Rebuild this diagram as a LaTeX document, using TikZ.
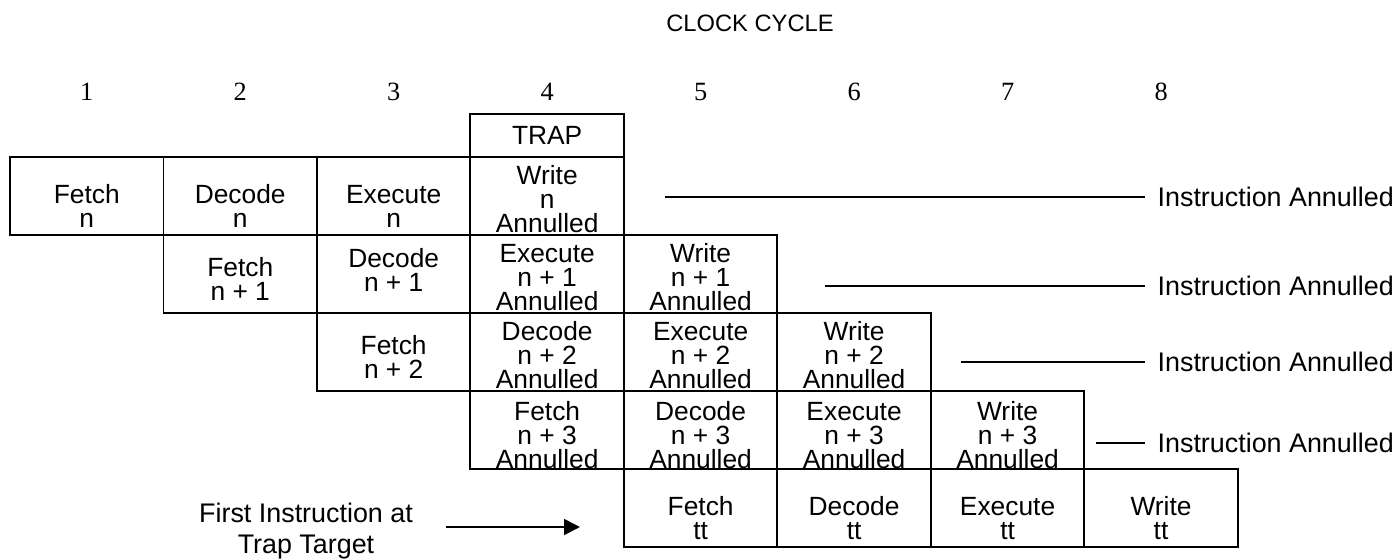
\documentclass[tikz,border=0pt]{standalone}
\usepackage{fontspec}
\setmainfont{Liberation Serif}
\setsansfont{Liberation Sans}
\usepackage{tikz}
\usetikzlibrary{arrows.meta,positioning}
\tikzset{
  cell/.style={draw,line width=1.1pt,minimum width=3.07cm,minimum height=1.56cm,
    inner sep=0pt,outer sep=0pt},
  celltext/.style={align=center,inner sep=0pt,
    font=\sffamily\fontsize{15}{13.6}\selectfont},
  annul/.style={anchor=west,inner xsep=7pt,inner ysep=0pt,
    font=\sffamily\fontsize{15.3}{16}\selectfont},
  cyclenum/.style={font=\fontsize{15}{16}\selectfont},
  annulline/.style={line width=1.1pt},
  trgarrow/.style={-{Triangle[length=9pt,width=9pt]},line width=1.1pt}
}
\begin{document}
\begin{tikzpicture}[x=0.02cm,y=-0.02cm]
\useasboundingbox (0,0) rectangle (1400,559);
\node[font=\sffamily\fontsize{13.5}{16}\selectfont] (title) at (750,23) {CLOCK CYCLE};
% clock cycle numbers
\node[cyclenum] (c1) at (86.75,92) {1};
\node[cyclenum] (c2) at (240.25,92) {2};
\node[cyclenum] (c3) at (393.75,92) {3};
\node[cyclenum] (c4) at (547.25,92) {4};
\node[cyclenum] (c5) at (700.75,92) {5};
\node[cyclenum] (c6) at (854.25,92) {6};
\node[cyclenum] (c7) at (1007.75,92) {7};
\node[cyclenum] (c8) at (1161.25,92) {8};
% instruction n
\node[cell] (f1) at (86.75,196) {};
\node[cell,right=0pt of f1] (d1) {};
\node[cell,right=0pt of d1] (e1) {};
\node[cell,right=0pt of e1] (w1) {};
\node[cell,celltext,minimum height=0.86cm,above=0pt of w1] (trap) {TRAP};
% instruction n + 1
\node[cell,below=0pt of d1] (f2) {};
\node[cell,right=0pt of f2] (d2) {};
\node[cell,right=0pt of d2] (e2) {};
\node[cell,right=0pt of e2] (w2) {};
% instruction n + 2
\node[cell,below=0pt of d2] (f3) {};
\node[cell,right=0pt of f3] (d3) {};
\node[cell,right=0pt of d3] (e3) {};
\node[cell,right=0pt of e3] (w3) {};
% instruction n + 3
\node[cell,below=0pt of d3] (f4) {};
\node[cell,right=0pt of f4] (d4) {};
\node[cell,right=0pt of d4] (e4) {};
\node[cell,right=0pt of e4] (w4) {};
% trap target
\node[cell,below=0pt of d4] (f5) {};
\node[cell,right=0pt of f5] (d5) {};
\node[cell,right=0pt of d5] (e5) {};
\node[cell,right=0pt of e5] (w5) {};
% cell texts
\node[celltext,above=4pt of f1.south] (tf1) {Fetch\\n};
\node[celltext,above=4pt of d1.south] (td1) {Decode\\n};
\node[celltext,above=4pt of e1.south] (te1) {Execute\\n};
\node[celltext,above=1pt of w1.south] (tw1) {Write\\n\\Annulled};
\node[celltext,above=7pt of f2.south] (tf2) {Fetch\\n + 1};
\node[celltext,above=12pt of d2.south] (td2) {Decode\\n + 1};
\node[celltext,above=1pt of e2.south] (te2) {Execute\\n + 1\\Annulled};
\node[celltext,above=1pt of w2.south] (tw2) {Write\\n + 1\\Annulled};
\node[celltext,above=7pt of f3.south] (tf3) {Fetch\\n + 2};
\node[celltext,above=1pt of d3.south] (td3) {Decode\\n + 2\\Annulled};
\node[celltext,above=1pt of e3.south] (te3) {Execute\\n + 2\\Annulled};
\node[celltext,above=1pt of w3.south] (tw3) {Write\\n + 2\\Annulled};
\node[celltext,above=0pt of f4.south] (tf4) {Fetch\\n + 3\\Annulled};
\node[celltext,above=0pt of d4.south] (td4) {Decode\\n + 3\\Annulled};
\node[celltext,above=0pt of e4.south] (te4) {Execute\\n + 3\\Annulled};
\node[celltext,above=0pt of w4.south] (tw4) {Write\\n + 3\\Annulled};
\node[celltext,above=4pt of f5.south] (tf5) {Fetch\\tt};
\node[celltext,above=4pt of d5.south] (td5) {Decode\\tt};
\node[celltext,above=4pt of e5.south] (te5) {Execute\\tt};
\node[celltext,above=4pt of w5.south] (tw5) {Write\\tt};
% annulled marks
\node[annul] (ia1) at (1145,197) {Instruction Annulled};
\node[annul] (ia2) at (1145,286) {Instruction Annulled};
\node[annul] (ia3) at (1145,362) {Instruction Annulled};
\node[annul] (ia4) at (1145,443) {Instruction Annulled};
\coordinate (s1) at (665,197);
\coordinate (s2) at (825,286);
\coordinate (s3) at (961,362);
\coordinate (s4) at (1096,443);
\draw[annulline] (s1) -- (ia1.west);
\draw[annulline] (s2) -- (ia2.west);
\draw[annulline] (s3) -- (ia3.west);
\draw[annulline] (s4) -- (ia4.west);
% trap target arrow
\node[align=center,font=\sffamily\fontsize{15.3}{18}\selectfont] (first) at (306,531)
  {First Instruction at\\Trap Target};
\coordinate (arr) at (446,527);
\draw[trgarrow,shorten >=25pt] (arr) -- (arr -| f5.west);
\end{tikzpicture}
\end{document}
